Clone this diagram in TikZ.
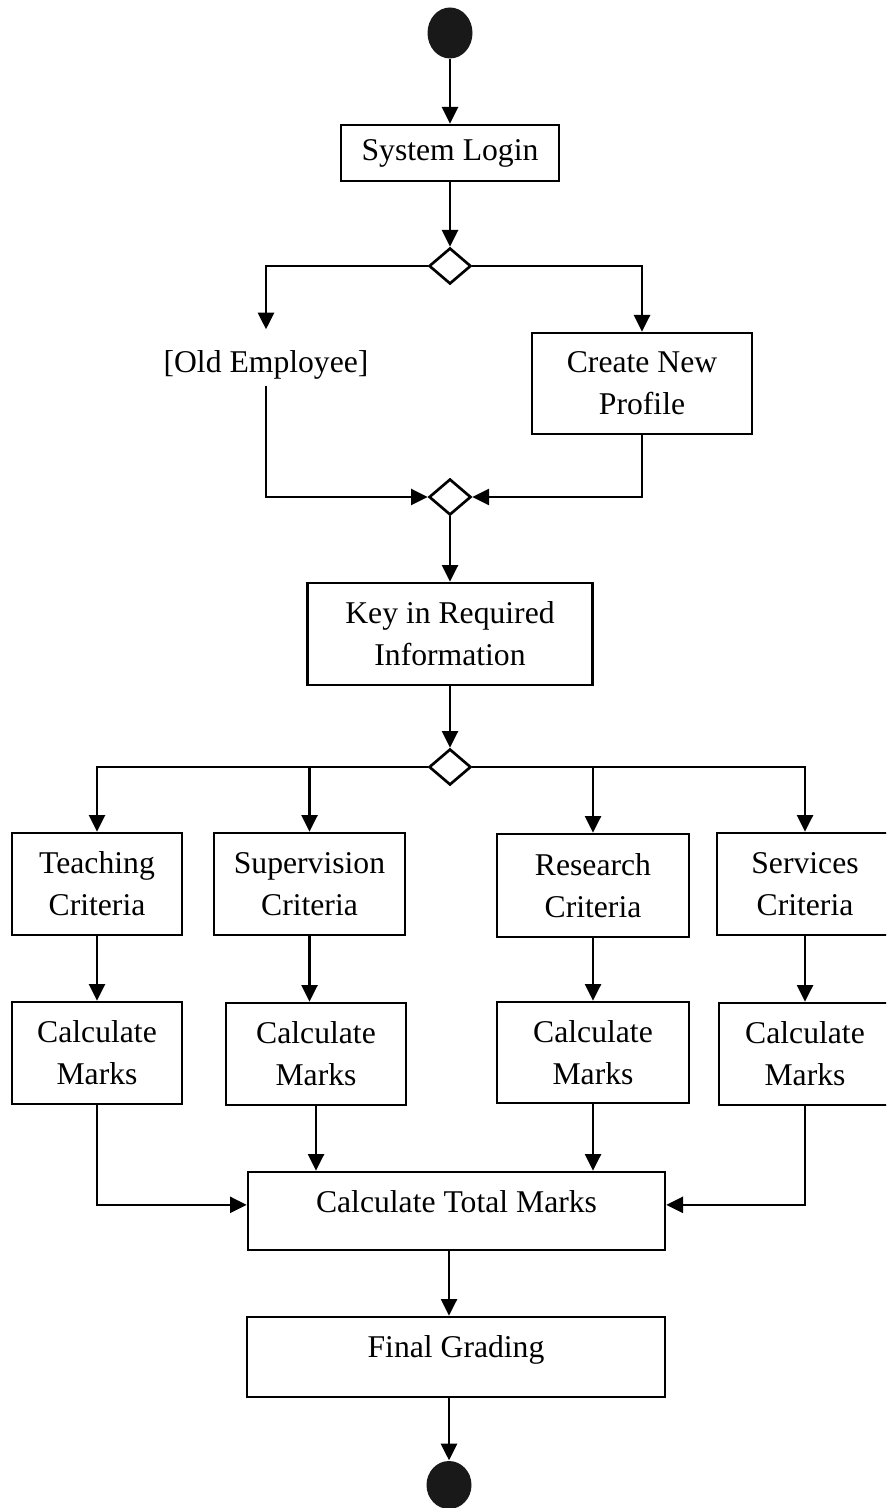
\documentclass[tikz,border=0pt]{standalone}
\usepackage{fontspec}
\setmainfont{Liberation Serif}
\usetikzlibrary{shapes.geometric,arrows.meta}
\tikzset{
    flow/.style={line width=0.8pt, -{Triangle[length=5pt,width=4.8pt]}},
    actbox/.style={draw, line width=0.8pt, align=center, inner sep=0pt},
    decision/.style={draw, line width=0.8pt, diamond, inner sep=0pt,
        minimum width=12.6pt, minimum height=10.8pt},
    terminal/.style={ellipse, fill=black!90, inner sep=0pt, minimum width=13.5pt}
}
\begin{document}
\begin{tikzpicture}[x=0.3pt, y=-0.3pt, font=\fontsize{9.5}{12.6}\selectfont]
                    \clip (0, 0) rectangle (886, 1508);
                    % Start and login
                    \node[terminal, minimum height=15.3pt] (start) at (450, 33) {};
                    \node[actbox, minimum width=65.4pt, minimum height=16.8pt] (login) at (450, 153) {System Login};
                    \node[decision] (split) at (450, 266) {};
                    % Employee check
                    \node[inner sep=0pt, text height=12.9pt, text depth=3.6pt] (old) at (266, 357.5) {[Old Employee]};
                    \node[actbox, minimum width=66pt, minimum height=30.3pt] (profile) at (642, 383.5) {Create New\\Profile};
                    \node[decision] (merge) at (450, 497) {};
                    \node[actbox, minimum width=85.5pt, minimum height=30.6pt] (keyin) at (450, 634) {Key in Required\\Information};
                    \node[decision] (fork) at (450, 767) {};
                    % Criteria
                    \node[actbox, minimum width=51pt, minimum height=30.6pt] (teach) at (97, 884) {Teaching\\Criteria};
                    \node[actbox, minimum width=57.3pt, minimum height=30.6pt] (superv) at (309.5, 884) {Supervision\\Criteria};
                    \node[actbox, minimum width=57.6pt, minimum height=30.9pt] (research) at (593, 885.5) {Research\\Criteria};
                    \node[actbox, minimum width=52.8pt, minimum height=30.6pt] (services) at (805, 884) {Services\\Criteria};
                    % Marks
                    \node[actbox, minimum width=51pt, minimum height=30.6pt] (calcA) at (97, 1053) {Calculate\\Marks};
                    \node[actbox, minimum width=54pt, minimum height=30.6pt] (calcB) at (316, 1054) {Calculate\\Marks};
                    \node[actbox, minimum width=57.6pt, minimum height=30.3pt] (calcC) at (593, 1052.5) {Calculate\\Marks};
                    \node[actbox, minimum width=51.6pt, minimum height=30.6pt] (calcD) at (805, 1054) {Calculate\\Marks};
                    % Total and grading
                    \node[actbox, minimum width=125.1pt, text height=12.15pt, text depth=11.25pt] (total) at (456.5, 1211) {Calculate Total Marks};
                    \node[actbox, minimum width=125.4pt, text height=12.15pt, text depth=11.85pt] (grading) at (456, 1357) {Final Grading};
                    \node[terminal, minimum height=14.4pt] (stop) at (449, 1485) {};
                    % Connectors
                    \draw[flow] (start) -- (login);
                    \draw[flow] (login) -- (split);
                    \draw[flow] (split.west) -| (old.north);
                    \draw[flow] (split.east) -| (profile.north);
                    \draw[flow] (old.south) |- (merge.west);
                    \draw[flow] (profile.south) |- (merge.east);
                    \draw[flow] (merge) -- (keyin);
                    \draw[flow] (keyin) -- (fork);
                    \draw[flow] (fork.west) -| (teach.north);
                    \draw[flow] (fork.west) -| (superv.north);
                    \draw[flow] (fork.east) -| (research.north);
                    \draw[flow] (fork.east) -| (services.north);
                    \draw[flow] (teach) -- (calcA);
                    \draw[flow] (superv.south) -- (superv.south |- calcB.north);
                    \draw[flow] (research) -- (calcC);
                    \draw[flow] (services) -- (calcD);
                    \draw[flow] (calcA.south) |- (total.mid west);
                    \draw[flow] (calcB.south) -- (calcB.south |- total.north);
                    \draw[flow] (calcC.south) -- (calcC.south |- total.north);
                    \draw[flow] (calcD.south) |- (total.mid east);
                    \draw[flow] (total.south -| stop) -- (grading.north -| stop);
                    \draw[flow] (grading.south -| stop) -- (stop);
\end{tikzpicture}
\end{document}
